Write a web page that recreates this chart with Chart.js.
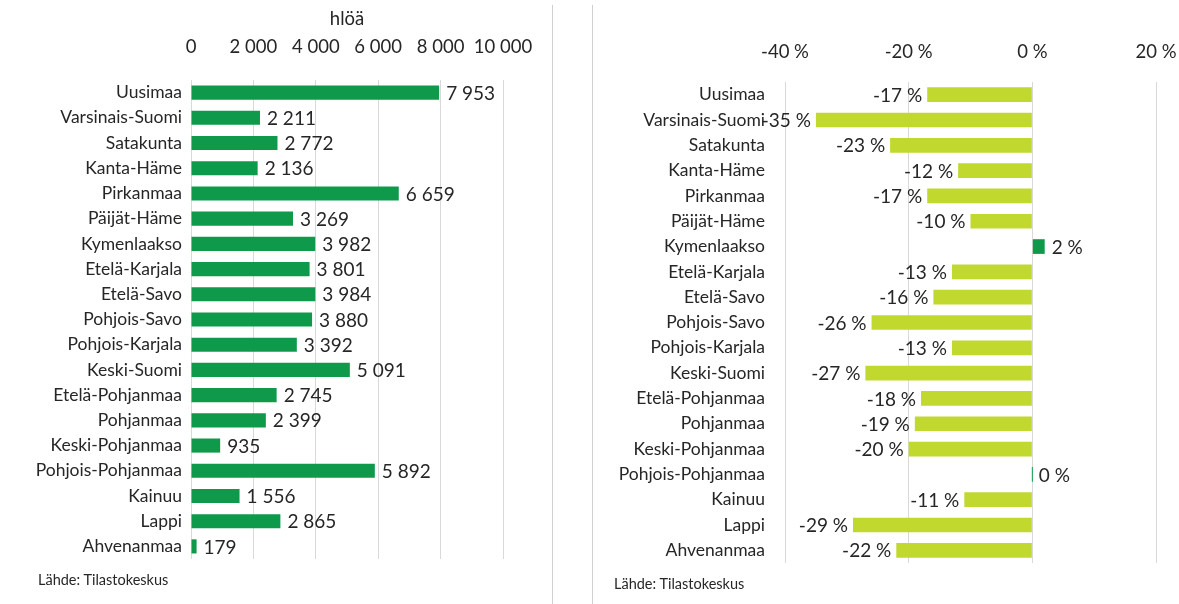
<!DOCTYPE html>
<html lang="fi">
<head>
<meta charset="UTF-8" />
<title>Alueet</title>
<script src="https://cdn.jsdelivr.net/npm/chart.js"></script>
<style>
  body { margin: 0; background: #fff; width: 1179px; height: 604px; position: relative; overflow: hidden; font-family: Lato, "Open Sans", sans-serif; }
  .box { position: absolute; top: 0; height: 604px; }
  .sep { position: absolute; top: 5px; width: 1px; height: 599px; background: #d0d0d0; }
  .src { position: absolute; font-size: 14.5px; color: #262626; }
</style>
</head>
<body>

<div class="box" style="left:0;width:552px"><canvas id="leftChart" width="552" height="604"></canvas></div>
<div class="sep" style="left:552px"></div>
<div class="sep" style="left:592px"></div>
<div class="box" style="left:593px;width:586px"><canvas id="rightChart" width="586" height="604"></canvas></div>

<div class="src" style="left:38px;top:571px">Lähde: Tilastokeskus</div>
<div class="src" style="left:614px;top:575px">Lähde: Tilastokeskus</div>

<script>
  const regions = ['Uusimaa', 'Varsinais-Suomi', 'Satakunta', 'Kanta-Häme', 'Pirkanmaa', 'Päijät-Häme',
    'Kymenlaakso', 'Etelä-Karjala', 'Etelä-Savo', 'Pohjois-Savo', 'Pohjois-Karjala', 'Keski-Suomi',
    'Etelä-Pohjanmaa', 'Pohjanmaa', 'Keski-Pohjanmaa', 'Pohjois-Pohjanmaa', 'Kainuu', 'Lappi', 'Ahvenanmaa'];
  const persons = [7953, 2211, 2772, 2136, 6659, 3269, 3982, 3801, 3984, 3880, 3392, 5091, 2745, 2399, 935, 5892, 1556, 2865, 179];
  const change = [-17, -35, -23, -12, -17, -10, 2, -13, -16, -26, -13, -27, -18, -19, -20, 0, -11, -29, -22];
  const personTicks = [0, 10000, 2000];
  const changeTicks = [-40, 20, 20];

  const GREEN = '#0f9a4b';
  const LIME = '#c1d82f';
  const TEXT = '#262626';
  const FONT = 'Lato, "Open Sans", sans-serif';

  function spaced(v) {
    return String(v).replace(/\B(?=(\d{3})+(?!\d))/g, ' ');
  }

  // draws value labels next to bar ends
  const valueLabels = {
    id: 'valueLabels',
    afterDatasetsDraw(chart, args, opts) {
      const ctx = chart.ctx;
      const meta = chart.getDatasetMeta(0);
      const vals = chart.data.datasets[0].data;
      ctx.save();
      ctx.font = '19px ' + FONT;
      ctx.fillStyle = TEXT;
      ctx.textBaseline = 'middle';
      meta.data.forEach((bar, i) => {
        const v = vals[i];
        if (v < 0) {
          ctx.textAlign = 'right';
          ctx.fillText(opts.fmt(v), bar.x - 5, bar.y + 1);
        } else {
          ctx.textAlign = 'left';
          ctx.fillText(opts.fmt(v), bar.x + 7, bar.y + 1);
        }
      });
      ctx.restore();
    }
  };

  // keep the plot area where it is, don't pad for edge tick labels
  function noEdgePad(s, h) {
    s.height = h;
    s.paddingLeft = 0;
    s.paddingRight = 0;
  }

  Chart.defaults.font.family = FONT;
  Chart.defaults.color = TEXT;

  new Chart(document.getElementById('leftChart'), {
    type: 'bar',
    data: {
      labels: regions,
      datasets: [{ data: persons, backgroundColor: GREEN, categoryPercentage: 1, barPercentage: 0.56 }]
    },
    options: {
      responsive: false,
      animation: false,
      indexAxis: 'y',
      layout: { padding: { left: 0, right: 49, top: 0, bottom: 45 } },
      plugins: {
        legend: { display: false },
        tooltip: { enabled: false },
        valueLabels: { fmt: spaced }
      },
      scales: {
        x: {
          position: 'top',
          min: personTicks[0], max: personTicks[1],
          ticks: { stepSize: personTicks[2], padding: 22, font: { size: 18.5 }, callback: v => spaced(v), maxRotation: 0 },
          grid: { color: '#d9d9d9', drawTicks: false },
          border: { display: false },
          title: { display: true, text: 'hlöä', font: { size: 18.5 }, padding: { top: 8, bottom: 0 } },
          afterFit(s) { noEdgePad(s, 80); }
        },
        y: {
          ticks: { font: { size: 17.5 }, padding: 9, autoSkip: false },
          grid: { display: false, drawTicks: false },
          border: { display: false },
          afterFit(s) { s.width = 191; }
        }
      }
    },
    plugins: [valueLabels]
  });

  new Chart(document.getElementById('rightChart'), {
    type: 'bar',
    data: {
      labels: regions,
      datasets: [{
        data: change,
        backgroundColor: change.map(v => v >= 0 ? GREEN : LIME),
        categoryPercentage: 1, barPercentage: 0.58, minBarLength: 1
      }]
    },
    options: {
      responsive: false,
      animation: false,
      indexAxis: 'y',
      layout: { padding: { left: 0, right: 23, top: 0, bottom: 41 } },
      plugins: {
        legend: { display: false },
        tooltip: { enabled: false },
        valueLabels: { fmt: v => v + ' %' }
      },
      scales: {
        x: {
          position: 'top',
          min: changeTicks[0], max: changeTicks[1],
          ticks: { stepSize: changeTicks[2], padding: 19, font: { size: 18.5 }, callback: v => v + ' %', maxRotation: 0 },
          grid: { color: '#d9d9d9', drawTicks: false },
          border: { display: false },
          afterFit(s) { noEdgePad(s, 82); }
        },
        y: {
          ticks: { font: { size: 17.5 }, padding: 20, autoSkip: false },
          grid: { display: false, drawTicks: false },
          border: { display: false },
          afterFit(s) { s.width = 192; }
        }
      }
    },
    plugins: [valueLabels]
  });
</script>
</body>
</html>
